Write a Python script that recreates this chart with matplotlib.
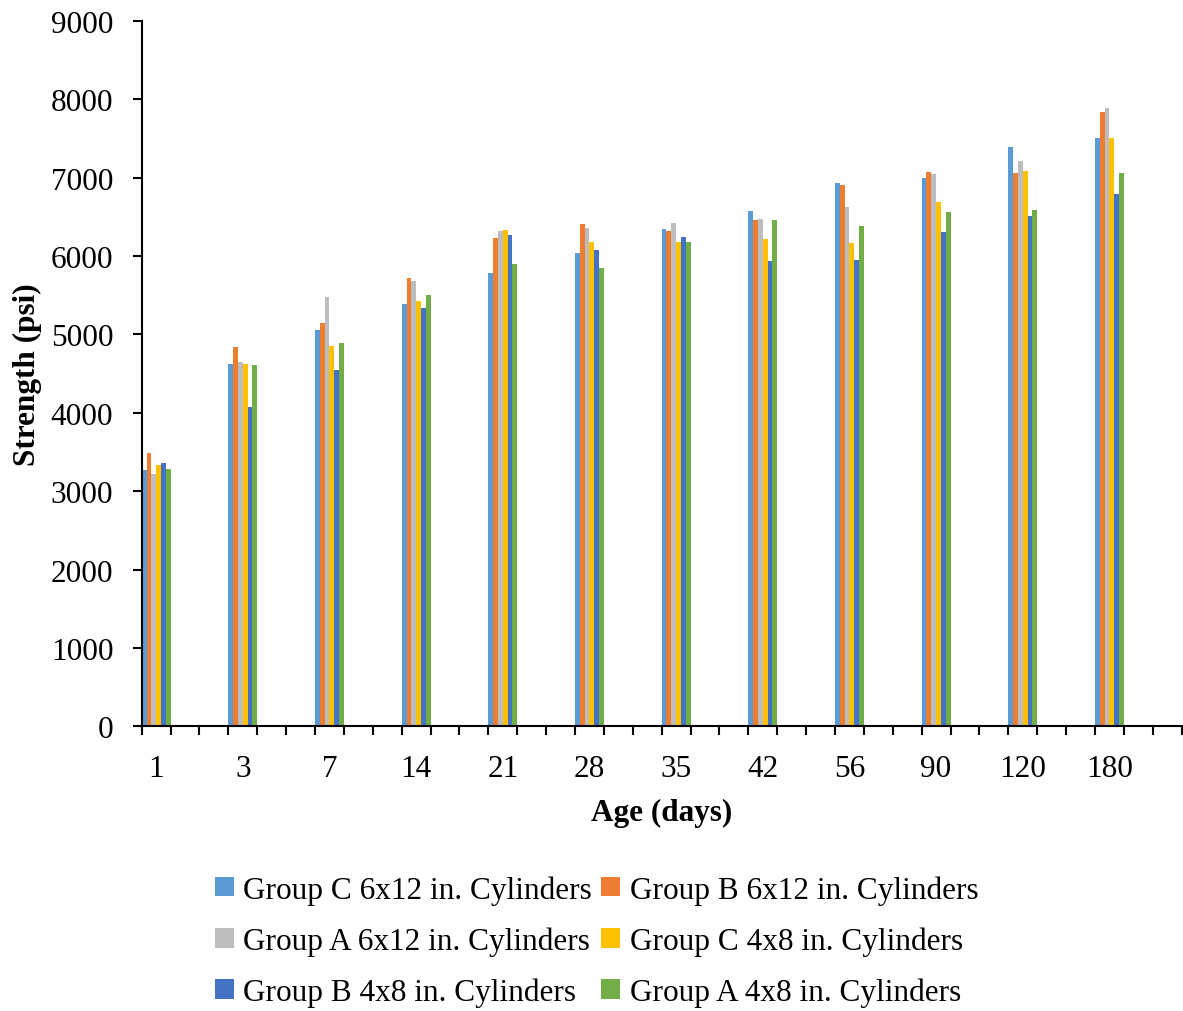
import numpy as np
import matplotlib.pyplot as plt

# Datos
edades = ['1', '3', '7', '14', '21', '28', '35', '42', '56', '90', '120', '180']
series = ['Group C 6x12 in. Cylinders', 'Group B 6x12 in. Cylinders',
          'Group A 6x12 in. Cylinders', 'Group C 4x8 in. Cylinders',
          'Group B 4x8 in. Cylinders', 'Group A 4x8 in. Cylinders']
grupo_c_6x12 = [3276, 4621, 5055, 5386, 5782, 6037, 6342, 6574, 6930, 7000, 7392, 7510]
grupo_b_6x12 = [3493, 4838, 5144, 5718, 6228, 6407, 6319, 6458, 6904, 7075, 7060, 7838]
grupo_a_6x12 = [3225, 4647, 5476, 5680, 6318, 6356, 6422, 6472, 6624, 7049, 7215, 7891]
grupo_c_4x8 = [3340, 4621, 4851, 5425, 6330, 6177, 6176, 6217, 6167, 6694, 7086, 7510]
grupo_b_4x8 = [3366, 4073, 4545, 5335, 6267, 6075, 6243, 5935, 5948, 6308, 6512, 6796]
grupo_a_4x8 = [3289, 4608, 4889, 5501, 5897, 5846, 6176, 6458, 6382, 6565, 6592, 7060]
valores = [grupo_c_6x12, grupo_b_6x12, grupo_a_6x12, grupo_c_4x8, grupo_b_4x8, grupo_a_4x8]
colores = ['#5B9BD5', '#ED7D31', '#BDBDBD', '#FFC000', '#4472C4', '#70AD47']

plt.rcParams['font.family'] = ['Liberation Serif', 'DejaVu Serif']

fig = plt.figure(figsize=(11.83, 10.12), dpi=100)
ax = fig.add_axes([0.1198, 0.2813, 0.879, 0.697])

# cada edad ocupa una categoria de cada tres (eje de categorias de Excel)
centros = np.arange(len(edades)) * 3
ancho = 1 / 6
barras = []
for k, (nombre, vals, col) in enumerate(zip(series, valores, colores)):
    x = centros - 0.5 + (k + 0.5) * ancho
    b = ax.bar(x, vals, width=ancho, color=col, label=nombre, linewidth=0)
    barras.append(b)

ax.set_xlim(-0.5, 35.5)
ax.set_ylim(0, 9000)
ax.set_yticks(np.arange(0, 9001, 1000))

ax.set_xticks(centros)
ax.set_xticklabels(edades)
ax.set_xticks(np.arange(-0.5, 36, 1), minor=True)
ax.tick_params(axis='x', which='major', length=0, pad=20, labelsize=22.5)
ax.tick_params(axis='x', which='minor', length=9 / 1.389, width=1.5, direction='out')
ax.tick_params(axis='y', length=9 / 1.389, width=1.5, pad=14, labelsize=22.5)

for lado in ['top', 'right']:
    ax.spines[lado].set_visible(False)
for lado in ['left', 'bottom']:
    ax.spines[lado].set_linewidth(1.5)

ax.set_xlabel('Age (days)', fontsize=22.5, fontweight='bold', labelpad=11)
ax.set_ylabel('Strength (psi)', fontsize=22.5, fontweight='bold', labelpad=6)

# leyenda con orden por filas
orden = [0, 2, 4, 1, 3, 5]
ax.legend([barras[i] for i in orden], [series[i] for i in orden],
          ncol=2, loc='upper center', bbox_to_anchor=(0.4375, -0.171),
          frameon=False, fontsize=22.5, handlelength=0.6, handleheight=0.6,
          handletextpad=0.3, columnspacing=0.3, labelspacing=0.7)

fig.savefig('out.png', dpi=100)
